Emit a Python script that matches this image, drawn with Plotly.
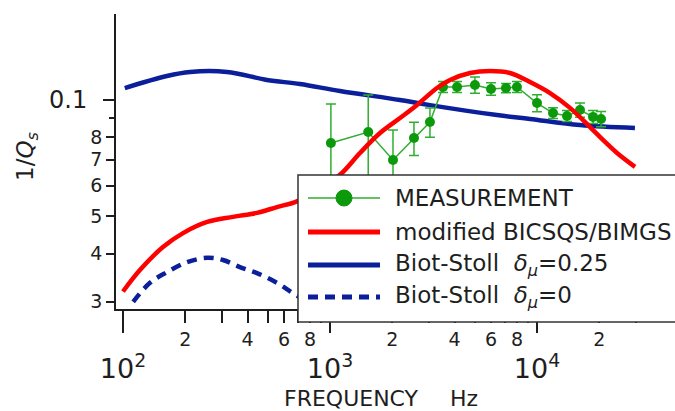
import plotly.graph_objects as go

# ---------------- data ----------------
meas_f = [1010, 1530, 2015, 2545, 3040, 3515, 4110, 5015, 5995, 7080, 8000,
          10000, 11950, 13960, 16130, 18650, 20390]
meas_q = [0.0774, 0.0826, 0.0699, 0.0797, 0.0877, 0.1081, 0.1081, 0.1094, 0.1068,
          0.1074, 0.1081, 0.0982, 0.0925, 0.0909, 0.0942, 0.0904, 0.0893]
meas_err = [0.0202, 0.0204, 0.0137, 0.0079, 0.0076, 0.0035, 0.0035, 0.0053, 0.0040,
            0.0030, 0.0036, 0.0050, 0.0030, 0.0030, 0.0040, 0.0035, 0.0040]

mod_f = [100, 121, 156, 195, 255, 340, 444, 554, 678, 875, 1117, 1396, 1744, 2179,
         2633, 3288, 3799, 4746, 5929, 7405, 9252, 11560, 14430, 18030, 20830,
         24350, 29750]
mod_q = [0.0319, 0.0363, 0.0416, 0.0452, 0.0483, 0.0498, 0.0510, 0.0528, 0.0544,
         0.0585, 0.0640, 0.0729, 0.0821, 0.0898, 0.0971, 0.1074, 0.1127, 0.1175,
         0.1189, 0.1175, 0.1113, 0.1042, 0.0954, 0.0851, 0.0788, 0.0729, 0.0671]

bs25_f = [102, 163, 211, 318, 496, 716, 1117, 2177, 3041, 6410, 9250, 16140, 29720]
bs25_q = [0.1074, 0.1154, 0.1182, 0.1182, 0.1127, 0.1100, 0.1055, 0.1000, 0.0970,
          0.0914, 0.0893, 0.0861, 0.0846]

bs0_f = [112, 135, 163, 204, 255, 304, 367, 444, 554, 662, 895]
bs0_q = [0.0300, 0.0336, 0.0358, 0.0380, 0.0390, 0.0385, 0.0369, 0.0356, 0.0336,
         0.0316, 0.0286]

x_label_vals = [200, 400, 600, 800, 2000, 4000, 6000, 8000, 20000]
x_label_text = ["2", "4", "6", "8", "2", "4", "6", "8", "2"]
x_plain_vals = [300, 500, 700, 900, 3000, 5000, 7000, 9000, 30000]
x_major_vals = [100, 1000, 10000]
x_major_text = ["10<sup>2</sup>", "10<sup>3</sup>", "10<sup>4</sup>"]
y_label_vals = [0.03, 0.04, 0.05, 0.06, 0.07, 0.08]
y_label_text = ["3", "4", "5", "6", "7", "8"]
y_plain_vals = [0.09]
y_major_vals = [0.1]
y_major_text = ["0.1"]

legend_names = ["MEASUREMENT", "modified BICSQS/BIMGS",
                "Biot-Stoll\u00a0\u00a0<i>δ</i><sub><i>μ</i></sub>=0.25",
                "Biot-Stoll\u00a0\u00a0<i>δ</i><sub><i>μ</i></sub>=0"]

# ---------------- style ----------------
GREEN = "#0c9a0c"
GREEN_L = "#2fae2f"
RED = "#ff0000"
BLUE = "#0b1f9b"
AX = "#1e1e1e"
FONT = "DejaVu Sans"

W, H = 675, 411
ML, MR, MT, MB = 116, 20, 14, 102
PW, PH = W - ML - MR, H - MT - MB
XR = [1.9662, 4.5700]
YR = [-1.5415, -0.7772]


def px(x):
    return (x - ML) / PW


def py(y):
    return (H - MB - y) / PH


fig = go.Figure()
fig.add_trace(go.Scatter(x=bs0_f, y=bs0_q, mode="lines", line_shape="spline",
                         line=dict(color=BLUE, width=4.5, dash="10px,7px"),
                         showlegend=False))
fig.add_trace(go.Scatter(x=bs25_f, y=bs25_q, mode="lines", line_shape="spline",
                         line=dict(color=BLUE, width=4.5), showlegend=False))
fig.add_trace(go.Scatter(x=meas_f, y=meas_q, mode="lines+markers",
                         line=dict(color=GREEN_L, width=1.5),
                         marker=dict(color=GREEN, size=10),
                         error_y=dict(type="data", array=meas_err, color=GREEN_L,
                                      thickness=1.5, width=5),
                         showlegend=False))
fig.add_trace(go.Scatter(x=mod_f, y=mod_q, mode="lines", line_shape="spline",
                         line=dict(color=RED, width=4.5), showlegend=False))
# invisible anchor so the overlaid decade axes get drawn
fig.add_trace(go.Scatter(x=[x_major_vals[1]], y=[y_major_vals[0]], xaxis="x2",
                         yaxis="y2", mode="markers", marker=dict(opacity=0),
                         hoverinfo="skip", showlegend=False))

axcommon = dict(type="log", showgrid=False, zeroline=False, ticks="outside",
                tickcolor=AX, tickwidth=1.5, tickmode="array")

fig.update_layout(
    width=W, height=H,
    margin=dict(l=ML, r=MR, t=MT, b=MB, autoexpand=False),
    paper_bgcolor="white", plot_bgcolor="white",
    font=dict(family=FONT, color=AX),
    showlegend=False,
    xaxis=dict(**axcommon, range=XR, showline=True, linecolor=AX, linewidth=1.5,
               tickvals=x_label_vals, ticktext=x_label_text, ticklen=12,
               tickfont=dict(size=19, family=FONT, color=AX), ticklabelstandoff=0,
               minor=dict(tickmode="array", tickvals=x_plain_vals, ticklen=12,
                          ticks="outside", tickcolor=AX, tickwidth=1.5)),
    xaxis2=dict(**axcommon, range=XR, overlaying="x", anchor="y2", side="bottom",
                showline=False, tickvals=x_major_vals, ticktext=x_major_text,
                ticklen=23, tickfont=dict(size=27, family=FONT, color=AX),
                ticklabelstandoff=13),
    yaxis=dict(**axcommon, range=YR, showline=True, linecolor=AX, linewidth=1.5,
               tickvals=y_label_vals, ticktext=y_label_text, ticklen=8,
               tickfont=dict(size=19, family=FONT, color=AX), ticklabelstandoff=0,
               minor=dict(tickmode="array", tickvals=y_plain_vals, ticklen=5,
                          ticks="outside", tickcolor=AX, tickwidth=1.5)),
    yaxis2=dict(**axcommon, range=YR, overlaying="y", anchor="x2", side="left",
                showline=False, tickvals=y_major_vals, ticktext=y_major_text,
                ticklen=12, tickfont=dict(size=24, family=FONT, color=AX),
                ticklabelstandoff=11),
)

shapes = []
annos = []
# legend box (drawn by hand so the long sample lines match)
shapes.append(dict(type="rect", xref="paper", yref="paper", layer="above",
                   x0=px(298), x1=px(700), y0=py(322), y1=py(175),
                   line=dict(color="#333333", width=1.5), fillcolor="white"))
rows = [198, 232, 265, 297]
styles = [dict(color=GREEN_L, width=1.5), dict(color=RED, width=5),
          dict(color=BLUE, width=5), dict(color=BLUE, width=5, dash="10px,7px")]
for r, st in zip(rows, styles):
    shapes.append(dict(type="line", xref="paper", yref="paper", layer="above",
                       x0=px(308), x1=px(380), y0=py(r), y1=py(r), line=st))
shapes.append(dict(type="circle", xref="paper", yref="paper", layer="above",
                   x0=px(336), x1=px(352), y0=py(206), y1=py(190),
                   fillcolor=GREEN, line=dict(color=GREEN, width=1)))
for r, name in zip(rows, legend_names):
    annos.append(dict(text=name, xref="paper", yref="paper", x=px(393), y=py(r),
                      xanchor="left", yanchor="middle", showarrow=False,
                      font=dict(size=23, family=FONT, color=AX)))

annos.append(dict(text="1/<i>Q</i><sub><i>s</i></sub>", xref="paper", yref="paper",
                  x=px(27), y=py(156), textangle=-90, showarrow=False,
                  xanchor="center", yanchor="middle",
                  font=dict(size=23, family=FONT, color=AX)))
annos.append(dict(text="FREQUENCY", xref="paper", yref="paper", x=px(351), y=py(398),
                  xanchor="center", yanchor="middle", showarrow=False,
                  font=dict(size=22, family=FONT, color=AX)))
annos.append(dict(text="Hz", xref="paper", yref="paper", x=px(464), y=py(398),
                  xanchor="center", yanchor="middle", showarrow=False,
                  font=dict(size=22, family=FONT, color=AX)))

fig.update_layout(shapes=shapes, annotations=annos)
fig.write_html("out.html")
